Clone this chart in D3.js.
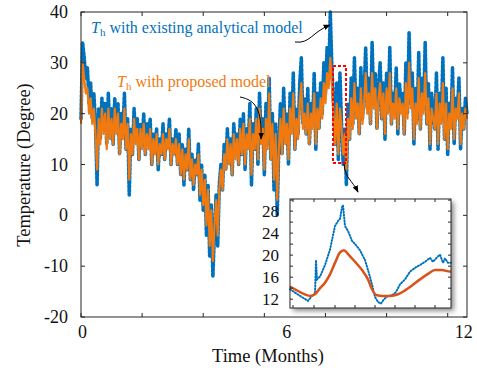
<!DOCTYPE html>
<html>
<head>
<meta charset="utf-8">
<script src="https://cdn.jsdelivr.net/npm/d3@7"></script>
<style>
  body { margin: 0; background: #fff; }
  svg text { font-family: "Liberation Serif", "DejaVu Serif", serif; }
</style>
</head>
<body>
<svg id="chart" width="477" height="371" font-family="Liberation Serif, serif"></svg>
<script>
// main series, one value every 0.05 month (20 per month)
const blueMain = [
  19, 34, 31, 27, 29, 22, 26, 19, 24, 18, 6, 21, 15, 23, 17, 22, 14, 24, 16, 21,
  14, 23, 17, 22, 12, 20, 16, 24, 13, 19, 4, 17, 12, 21, 15, 19, 11, 18, 14, 20,
  12, 18, 14, 19, 10, 16, 13, 17, 9, 15, 12, 18, 11, 16, 14, 19, 10, 15, 12, 17,
  10, 16, 8, 14, 6, 13, 9, 17, 7, 12, 5, 11, 8, 14, 3, 10, 1, 8, -4, 6,
  -8, 2, -12, -3, 4, -6, 6, 10, 5, 14, 9, 17, 11, 15, 8, 18, 12, 16, 10, 19,
  12, 20, 9, 17, 14, 22, 6, 18, 13, 21, 10, 24, 15, 19, 8, 22, 14, 27, 11, 20,
  5, 18, 0, 14, 22, 12, 25, 15, 20, 10, 24, 17, 28, 13, 21, 16, 26, 31, 18, 23,
  16, 25, 14, 22, 18, 28, 13, 24, 17, 26, 20, 30, 24, 33, 27, 40, 29, 22, 14, 26,
  11, 28, 18, 10, 17, 6, 22, 15, 27, 18, 31, 20, 25, 16, 29, 19, 24, 33, 21, 27,
  18, 34, 22, 28, 17, 25, 30, 19, 26, 15, 28, 21, 33, 18, 24, 20, 29, 16, 26, 22,
  24, 16, 30, 20, 36, 22, 28, 14, 25, 19, 32, 17, 27, 21, 34, 18, 26, 13, 24, 20,
  17, 28, 13, 24, 19, 31, 15, 25, 12, 22, 18, 29, 14, 23, 20, 27, 13, 21, 17, 23, 20
];
const orangeMain = [
  18, 30, 27, 24, 25, 20, 23, 18, 21, 16, 9, 19, 14, 21, 16, 20, 13, 21, 15, 19,
  14, 21, 16, 20, 12, 18, 15, 21, 13, 18, 7, 16, 12, 19, 14, 17, 11, 17, 13, 18,
  12, 16, 13, 17, 10, 15, 12, 16, 10, 14, 12, 16, 11, 15, 13, 17, 10, 14, 12, 15,
  10, 14, 8, 13, 7, 12, 9, 15, 7, 11, 6, 10, 8, 12, 4, 9, 2, 7, -2, 5,
  -6, 1, -9, -2, 3, -4, 5, 9, 5, 12, 9, 15, 10, 14, 8, 16, 11, 15, 10, 17,
  12, 18, 10, 16, 13, 19, 8, 16, 13, 19, 11, 21, 14, 17, 9, 19, 13, 24, 11, 18,
  7, 16, 3, 13, 19, 12, 21, 14, 18, 11, 21, 16, 24, 13, 19, 15, 22, 26, 17, 20,
  16, 22, 14, 20, 17, 24, 14, 21, 17, 23, 19, 26, 22, 28, 25, 31, 26, 20, 14, 22,
  12, 21, 17, 12, 16, 9, 19, 15, 23, 17, 26, 19, 22, 16, 25, 18, 22, 28, 20, 24,
  18, 28, 21, 25, 17, 23, 26, 19, 24, 16, 25, 20, 28, 18, 22, 19, 25, 17, 23, 20,
  22, 16, 26, 19, 30, 21, 25, 15, 22, 18, 27, 17, 24, 20, 28, 18, 23, 14, 21, 19,
  17, 24, 14, 22, 18, 26, 15, 22, 13, 20, 17, 25, 15, 21, 19, 24, 14, 20, 17, 21, 19
];
const stepMonths = 0.05;

const yTicks = [-20, -10, 0, 10, 20, 30, 40];
const xTickMonths = [0, 1.9, 3.8, 5.7, 7.6, 9.5, 11.4];
const xTickLabels = ["0", "6", "12"];
const xLabelMonths = [0.05, 6.4, 11.9];

// zoomed window (hours from window start)
const insetBlueHours = [0, 10, 18, 22, 25, 26, 27, 30, 35, 40, 45, 48, 50, 52, 53, 55, 58, 62, 66, 70,
  75, 78, 82, 85, 88, 91, 94, 98, 102, 106, 110, 115, 120, 125, 130, 135, 140, 143, 147, 150, 153, 155, 158, 161];
const insetBlue = [13.8, 12.6, 11.7, 12.6, 13.0, 19.1, 15.6, 16.1, 18.2, 21.0, 25.3, 26.2, 26.6, 28.7, 29.1, 25.3, 24.4, 22.6, 21.8, 20.9,
  19.1, 17.3, 14.7, 12.4, 11.5, 11.2, 12.0, 12.6, 12.7, 13.3, 14.7, 15.6, 17.0, 17.7, 18.2, 18.8, 19.5, 18.8, 19.6, 20.1, 18.6, 19.4, 18.6, 18.6];
const insetOrangeHours = [0, 10, 20, 25, 30, 35, 40, 45, 50, 54, 58, 65, 72, 78, 82, 87, 93, 100, 108, 115, 122, 130, 138, 145, 152, 157, 161];
const insetOrange = [14.3, 13.3, 12.6, 12.9, 14.0, 15.0, 16.5, 18.6, 20.5, 20.9, 20.2, 18.8, 17.3, 15.6, 13.8, 12.7, 12.6, 12.6, 12.9, 13.6,
  14.5, 15.6, 16.6, 17.3, 17.3, 17.1, 17.0];
const insetYTicks = [12, 14, 16, 18, 20, 22, 24, 26, 28, 30];
const insetYLabels = [12, 16, 20, 24, 28];
const insetXTicks = [3, 24, 45, 65, 85, 105, 125, 145];

const blueColor = "#0072BD";
const orangeColor = "#F07A10";
const redOrange = "#D95319";
const axisColor = "#262626";

const svg = d3.select("#chart");

const defs = svg.append("defs");
defs.append("marker")
  .attr("id", "arrow").attr("viewBox", "0 0 10 10")
  .attr("refX", 9).attr("refY", 5)
  .attr("markerWidth", 7).attr("markerHeight", 7)
  .attr("orient", "auto-start-reverse")
  .append("path").attr("d", "M0,1 L10,5 L0,9 z").attr("fill", "#000");
const shadow = defs.append("filter").attr("id", "shadow")
  .attr("x", "-10%").attr("y", "-10%").attr("width", "130%").attr("height", "130%");
shadow.append("feDropShadow").attr("dx", 3).attr("dy", 3).attr("stdDeviation", 2.5)
  .attr("flood-color", "#000").attr("flood-opacity", 0.45);

// main plot
const plotL = 81, plotR = 467, plotT = 12, plotB = 317;
const x = d3.scaleLinear().domain([0, 12]).range([plotL, plotR]);
const y = d3.scaleLinear().domain([-20, 40]).range([plotB, plotT]);

const mainLine = d3.line()
  .x((d, i) => x(i * stepMonths))
  .y(d => y(d));

svg.append("path").datum(blueMain)
  .attr("d", mainLine)
  .attr("fill", "none")
  .attr("stroke", blueColor)
  .attr("stroke-width", 3.6)
  .attr("stroke-linecap", "round")
  .attr("stroke-linejoin", "round")
  .attr("stroke-dasharray", "2.5,1.8");

svg.append("path").datum(orangeMain)
  .attr("d", mainLine)
  .attr("fill", "none")
  .attr("stroke", orangeColor)
  .attr("stroke-width", 2.2)
  .attr("stroke-linejoin", "round");

// box and ticks
const frame = svg.append("g");
frame.append("rect")
  .attr("x", plotL).attr("y", plotT)
  .attr("width", plotR - plotL).attr("height", plotB - plotT)
  .attr("fill", "none").attr("stroke", axisColor).attr("stroke-width", 1);

const tickLen = 4;
yTicks.forEach(v => {
  frame.append("line").attr("x1", plotL).attr("x2", plotL + tickLen)
    .attr("y1", y(v)).attr("y2", y(v)).attr("stroke", axisColor);
  frame.append("line").attr("x1", plotR).attr("x2", plotR - tickLen)
    .attr("y1", y(v)).attr("y2", y(v)).attr("stroke", axisColor);
  frame.append("text")
    .attr("x", 68).attr("y", y(v) + 6)
    .attr("text-anchor", "end")
    .attr("font-size", 18).attr("fill", "#111")
    .text(v);
});
xTickMonths.forEach(v => {
  frame.append("line").attr("x1", x(v)).attr("x2", x(v))
    .attr("y1", plotT).attr("y2", plotT + tickLen).attr("stroke", axisColor);
  frame.append("line").attr("x1", x(v)).attr("x2", x(v))
    .attr("y1", plotB).attr("y2", plotB - tickLen).attr("stroke", axisColor);
});
xTickLabels.forEach((t, i) => {
  frame.append("text")
    .attr("x", x(xLabelMonths[i])).attr("y", 338)
    .attr("text-anchor", "middle")
    .attr("font-size", 18).attr("fill", "#111")
    .text(t);
});

svg.append("text")
  .attr("x", 268).attr("y", 362)
  .attr("text-anchor", "middle")
  .attr("font-size", 18.5).attr("fill", "#111")
  .text("Time (Months)");
svg.append("text")
  .attr("transform", "translate(30,165) rotate(-90)")
  .attr("text-anchor", "middle")
  .attr("font-size", 18.5).attr("fill", "#111")
  .text("Temperature (Degree)");

// annotations
function label(xp, yp, color, rest) {
  const t = svg.append("text").attr("x", xp).attr("y", yp)
    .attr("font-size", 16).attr("fill", color);
  t.append("tspan").attr("font-style", "italic").text("T");
  t.append("tspan").attr("font-size", 11).attr("dy", 3).text("h");
  t.append("tspan").attr("dy", -3).text(" " + rest);
}
label(91, 33, blueColor, "with existing analytical model");
label(117, 87, orangeColor, "with proposed model");

svg.append("path")
  .attr("d", "M295,42 C310,44 312,32 330,25")
  .attr("fill", "none").attr("stroke", "#000").attr("stroke-width", 1)
  .attr("marker-end", "url(#arrow)");
svg.append("path")
  .attr("d", "M240,97 C256,100 262,110 261,139")
  .attr("fill", "none").attr("stroke", "#000").attr("stroke-width", 1)
  .attr("marker-end", "url(#arrow)");

// highlighted window
svg.append("rect")
  .attr("x", 333).attr("y", 66).attr("width", 13).attr("height", 97)
  .attr("fill", "none").attr("stroke", "#FF0000").attr("stroke-width", 2)
  .attr("stroke-dasharray", "3,2");
svg.append("path")
  .attr("d", "M344,164 C345,178 352,180 358,192")
  .attr("fill", "none").attr("stroke", "#000").attr("stroke-width", 1)
  .attr("marker-end", "url(#arrow)");

// inset
const il = 290, ir = 451, it = 199, ib = 308;
const ix = d3.scaleLinear().domain([0, 161]).range([il, ir]);
const iy = d3.scaleLinear().domain([10.4, 30.2]).range([ib, it]);

const inset = svg.append("g");
inset.append("rect")
  .attr("x", il).attr("y", it).attr("width", ir - il).attr("height", ib - it)
  .attr("fill", "#fff").attr("filter", "url(#shadow)");

inset.append("path").datum(insetBlue)
  .attr("d", d3.line().x((d, i) => ix(insetBlueHours[i])).y(d => iy(d)))
  .attr("fill", "none")
  .attr("stroke", blueColor)
  .attr("stroke-width", 2)
  .attr("stroke-linecap", "round")
  .attr("stroke-dasharray", "1,2");
inset.append("path").datum(insetOrange)
  .attr("d", d3.line().curve(d3.curveMonotoneX).x((d, i) => ix(insetOrangeHours[i])).y(d => iy(d)))
  .attr("fill", "none")
  .attr("stroke", redOrange)
  .attr("stroke-width", 2.5);

inset.append("rect")
  .attr("x", il).attr("y", it).attr("width", ir - il).attr("height", ib - it)
  .attr("fill", "none").attr("stroke", axisColor).attr("stroke-width", 1);
insetYTicks.forEach(v => {
  inset.append("line").attr("x1", il).attr("x2", il + 3)
    .attr("y1", iy(v)).attr("y2", iy(v)).attr("stroke", axisColor);
  inset.append("line").attr("x1", ir).attr("x2", ir - 3)
    .attr("y1", iy(v)).attr("y2", iy(v)).attr("stroke", axisColor);
});
insetYLabels.forEach(v => {
  inset.append("text")
    .attr("x", 279).attr("y", iy(v) + 6)
    .attr("text-anchor", "end")
    .attr("font-size", 17).attr("fill", "#111")
    .text(v);
});
insetXTicks.forEach(v => {
  inset.append("line").attr("x1", ix(v)).attr("x2", ix(v))
    .attr("y1", ib).attr("y2", ib - 3).attr("stroke", axisColor);
  inset.append("line").attr("x1", ix(v)).attr("x2", ix(v))
    .attr("y1", it).attr("y2", it + 3).attr("stroke", axisColor);
});
</script>
</body>
</html>
